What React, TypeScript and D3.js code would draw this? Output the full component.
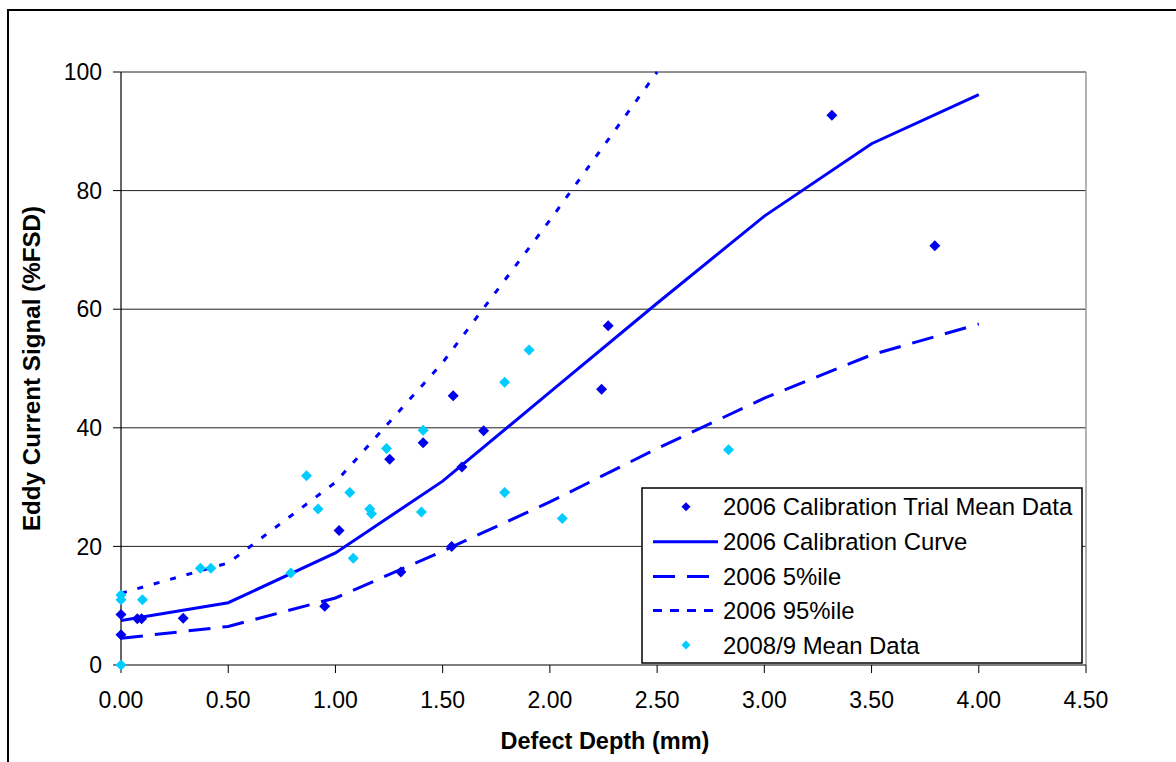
import React from "react";
import * as d3 from "d3";

// ---- Data ----
const trialDepth = [0, 0, 0.076, 0.096, 0.29, 0.95, 1.017, 1.253, 1.305, 1.409, 1.542, 1.549, 1.59, 1.691, 2.241, 2.272, 3.315, 3.795];
const trialSignal = [8.5, 5.1, 7.8, 7.8, 7.9, 9.9, 22.7, 34.7, 15.7, 37.5, 20.0, 45.4, 33.4, 39.5, 46.5, 57.2, 92.7, 70.7];

const newDepth = [0, 0, 0, 0.1, 0.37, 0.419, 0.792, 0.865, 0.919, 1.067, 1.083, 1.16, 1.168, 1.238, 1.401, 1.409, 1.789, 1.789, 1.903, 2.058, 2.833];
const newSignal = [0, 11.8, 11.0, 11.0, 16.3, 16.3, 15.5, 31.9, 26.3, 29.1, 18.0, 26.3, 25.5, 36.5, 25.8, 39.6, 47.7, 29.1, 53.1, 24.7, 36.3];

const curveDepth = [0, 0.5, 1.0, 1.5, 2.0, 2.5, 3.0, 3.5, 4.0];
const calCurve = [7.5, 10.5, 18.9, 31.0, 46.0, 61.0, 75.7, 87.9, 96.2];
const p5Curve = [4.5, 6.5, 11.3, 19.2, 27.5, 36.5, 45.0, 52.3, 57.5];
const p95Curve = [12.1, 17.2, 30.8, 51.0, 75.0, 100.0];

const xTicks = [0, 0.5, 1.0, 1.5, 2.0, 2.5, 3.0, 3.5, 4.0, 4.5];
const yTicks = [0, 20, 40, 60, 80, 100];

const legendLabels = [
  "2006 Calibration Trial Mean Data",
  "2006 Calibration Curve",
  "2006 5%ile",
  "2006 95%ile",
  "2008/9 Mean Data",
];

const BLUE = "#0000FF";
const DARK = "#0000EE";
const CYAN = "#00CCFF";
const FONT = "'Liberation Sans', Arial, sans-serif";

export default function App() {
  const left = 121, right = 1086, top = 72, bottom = 665;
  const x = d3.scaleLinear().domain([0, 4.5]).range([left, right]);
  const y = d3.scaleLinear().domain([0, 100]).range([bottom, top]);

  const line = d3
    .line<[number, number]>()
    .x((d) => x(d[0]))
    .y((d) => y(d[1]));

  const diamond = (cx: number, cy: number, r: number) =>
    `M${cx},${cy - r}L${cx + r},${cy}L${cx},${cy + r}L${cx - r},${cy}Z`;

  const calPts = curveDepth.map((d, i) => [d, calCurve[i]] as [number, number]);
  const p5Pts = curveDepth.map((d, i) => [d, p5Curve[i]] as [number, number]);
  const p95Pts = p95Curve.map((v, i) => [curveDepth[i], v] as [number, number]);

  const legX = 642, legY = 488, legW = 440, legH = 175;
  const legRowY = [506.7, 541.7, 576.5, 610.5, 645];

  return (
    <svg
      width={1176}
      height={762}
      style={{ position: "absolute", left: 0, top: 0, background: "#fff" }}
      fontFamily={FONT}
    >
      <defs>
        <clipPath id="plotClip">
          <rect x={left} y={top - 1} width={right - left} height={bottom - top + 2} />
        </clipPath>
      </defs>
      {/* outer chart border */}
      <rect x={8} y={10} width={1300} height={900} fill="#fff" stroke="#000" strokeWidth={2} />

      {/* gridlines */}
      {yTicks.filter((t) => t > 0).map((t) => (
        <line key={"g" + t} x1={left} x2={right} y1={y(t)} y2={y(t)} stroke="#222" strokeWidth={1} />
      ))}
      <line x1={right} x2={right} y1={top} y2={bottom} stroke="#999" strokeWidth={1.5} />

      {/* axes */}
      <line x1={left} x2={left} y1={top} y2={bottom} stroke="#000" strokeWidth={1.2} />
      <line x1={left} x2={right} y1={bottom} y2={bottom} stroke="#000" strokeWidth={1.2} />
      {yTicks.map((t) => (
        <g key={"yt" + t}>
          <line x1={left - 8} x2={left} y1={y(t)} y2={y(t)} stroke="#000" strokeWidth={1} />
          <text x={102} y={y(t) + 8.2} textAnchor="end" fontSize={23} fill="#000">
            {t}
          </text>
        </g>
      ))}
      {xTicks.map((t) => (
        <g key={"xt" + t}>
          <line x1={x(t)} x2={x(t)} y1={bottom} y2={bottom + 8} stroke="#000" strokeWidth={1} />
          <text x={x(t)} y={708} textAnchor="middle" fontSize={23} fill="#000">
            {t.toFixed(2)}
          </text>
        </g>
      ))}

      {/* axis titles */}
      <text x={605} y={749} textAnchor="middle" fontSize={23.5} fontWeight="bold" fill="#000">
        Defect Depth (mm)
      </text>
      <text
        transform={`translate(39.5, ${(top + bottom) / 2}) rotate(-90)`}
        textAnchor="middle"
        fontSize={24.2}
        fontWeight="bold"
        fill="#000"
      >
        Eddy Current Signal (%FSD)
      </text>

      {/* curves */}
      <g clipPath="url(#plotClip)">
        <path d={line(calPts) || ""} fill="none" stroke={BLUE} strokeWidth={3} />
        <path d={line(p5Pts) || ""} fill="none" stroke={BLUE} strokeWidth={3} strokeDasharray="22,12" />
        <path d={line(p95Pts) || ""} fill="none" stroke={BLUE} strokeWidth={3} strokeDasharray="6,11" />
      </g>

      {/* points */}
      {trialDepth.map((d, i) => (
        <path key={"t" + i} d={diamond(x(d), y(trialSignal[i]), 5.5)} fill={DARK} />
      ))}
      {newDepth.map((d, i) => (
        <path key={"n" + i} d={diamond(x(d), y(newSignal[i]), 5.5)} fill={CYAN} />
      ))}

      {/* legend */}
      <rect x={legX} y={legY} width={legW} height={legH} fill="#fff" stroke="#000" strokeWidth={1.5} />
      <path d={diamond(686, legRowY[0], 4.5)} fill={DARK} />
      <line x1={653} x2={718} y1={legRowY[1]} y2={legRowY[1]} stroke={BLUE} strokeWidth={3} />
      <line x1={653} x2={718} y1={legRowY[2]} y2={legRowY[2]} stroke={BLUE} strokeWidth={3} strokeDasharray="22,12" />
      <line x1={653} x2={718} y1={legRowY[3]} y2={legRowY[3]} stroke={BLUE} strokeWidth={3} strokeDasharray="9,8" />
      <path d={diamond(686, legRowY[4], 4.5)} fill={CYAN} />
      {legendLabels.map((l, i) => (
        <text key={"l" + i} x={723} y={legRowY[i] + 8.6} fontSize={23.9} fill="#000">
          {l}
        </text>
      ))}
    </svg>
  );
}
